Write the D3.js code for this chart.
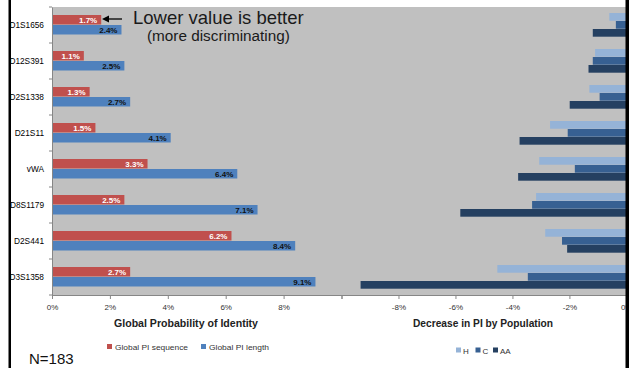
<!DOCTYPE html>
<html>
<head>
<meta charset="utf-8">
<script src="https://cdn.jsdelivr.net/npm/d3@7"></script>
<style>
  html, body { margin: 0; padding: 0; background: #fff; }
  svg { display: block; font-family: "Liberation Sans", Arial, sans-serif; }
</style>
</head>
<body>
<svg id="chart" width="629" height="368"></svg>
<script>
// STR loci, top to bottom
const loci = ["D1S1656", "D12S391", "D2S1338", "D21S11", "vWA", "D8S1179", "D2S441", "D3S1358"];

// Global probability of identity (%)
const piSequence = [1.7, 1.1, 1.3, 1.5, 3.3, 2.5, 6.2, 2.7];
const piLength   = [2.4, 2.5, 2.7, 4.1, 6.4, 7.1, 8.4, 9.1];

// Decrease in PI by population (%)
const decH  = [-0.60, -1.10, -1.30, -2.68, -3.06, -3.17, -2.85, -4.53];
const decC  = [-0.37, -1.18, -0.94, -2.06, -1.81, -3.31, -2.26, -3.46];
const decAA = [-1.18, -1.33, -1.99, -3.75, -3.80, -5.83, -2.08, -9.33];

const leftTicks  = [0, 2, 4, 6, 8, 10];
const rightTicks = [-10, -8, -6, -4, -2, 0];

const leftSeries = [
  { key: "Global PI sequence", values: piSequence, color: "#C0504D", labelColor: "#ffffff" },
  { key: "Global PI length",   values: piLength,   color: "#4F81BD", labelColor: "#111111" }
];
const rightSeries = [
  { key: "H",  values: decH,  color: "#95B3D7" },
  { key: "C",  values: decC,  color: "#376092" },
  { key: "AA", values: decAA, color: "#254061" }
];

const svg = d3.select("#chart");

const plotTop = 7, plotBottom = 295;
const xL = d3.scaleLinear().domain([0, 10]).range([52, 341.5]);
const xR = d3.scaleLinear().domain([-10, 0]).range([341.5, 626.4]);
const y = d3.scaleBand().domain(loci).range([plotTop, plotBottom]);

const yInL = d3.scaleBand().domain(leftSeries.map(s => s.key))
  .range([0, y.bandwidth()]).paddingInner(0).paddingOuter(0.8);
const yInR = d3.scaleBand().domain(rightSeries.map(s => s.key))
  .range([0, y.bandwidth()]).paddingInner(0).paddingOuter(0.75);

// plot background
svg.append("rect")
  .attr("x", xL(0)).attr("y", plotTop)
  .attr("width", xR(0) - xL(0)).attr("height", plotBottom - plotTop)
  .attr("fill", "#C0C0C0");

// left bars
leftSeries.forEach(s => {
  const g = svg.append("g");
  g.selectAll("rect").data(loci).join("rect")
    .attr("x", xL(0))
    .attr("y", (d) => y(d) + yInL(s.key))
    .attr("width", (d, i) => xL(s.values[i]) - xL(0))
    .attr("height", yInL.bandwidth() - 0.5)
    .attr("fill", s.color);
  g.selectAll("text").data(loci).join("text")
    .attr("x", (d, i) => xL(s.values[i]) - 4)
    .attr("y", (d) => y(d) + yInL(s.key) + yInL.bandwidth() / 2 + 3)
    .attr("text-anchor", "end")
    .attr("font-size", 8)
    .attr("font-weight", "bold")
    .attr("fill", s.labelColor)
    .text((d, i) => s.values[i].toFixed(1) + "%");
});

// right bars
rightSeries.forEach(s => {
  svg.append("g").selectAll("rect").data(loci).join("rect")
    .attr("x", (d, i) => xR(s.values[i]))
    .attr("y", (d) => y(d) + yInR(s.key))
    .attr("width", (d, i) => xR(0) - xR(s.values[i]))
    .attr("height", yInR.bandwidth() - 0.3)
    .attr("fill", s.color);
});

// axes
const axisColor = "#868686";
const fmt = d => d + "%";

const gxL = svg.append("g").attr("transform", `translate(0,${plotBottom})`)
  .call(d3.axisBottom(xL).tickValues(leftTicks).tickSize(4).tickSizeOuter(0)
    .tickFormat(d => d === 10 ? "" : fmt(d)));
const gxR = svg.append("g").attr("transform", `translate(0,${plotBottom})`)
  .call(d3.axisBottom(xR).tickValues(rightTicks).tickSize(4).tickSizeOuter(0)
    .tickFormat(d => d === -10 ? "" : fmt(d)));
[gxL, gxR].forEach(g => {
  g.select(".domain").attr("stroke", axisColor);
  g.selectAll(".tick line").attr("stroke", axisColor);
  g.selectAll(".tick text").attr("font-size", 8).attr("fill", "#333")
    .attr("font-family", "Liberation Sans, Arial, sans-serif").attr("dy", "1em");
});

const gy = svg.append("g").attr("transform", `translate(${xL(0)},0)`)
  .call(d3.axisLeft(y).tickSize(0).tickPadding(8));
gy.select(".domain").attr("stroke", axisColor);
gy.selectAll(".tick text").attr("font-size", 8.3).attr("fill", "#000")
  .attr("font-family", "Liberation Sans, Arial, sans-serif");
// band boundary ticks
gy.selectAll("line.bound").data(loci.concat(["end"])).join("line")
  .attr("class", "bound")
  .attr("x1", -3).attr("x2", 0)
  .attr("y1", d => d === "end" ? plotBottom : y(d))
  .attr("y2", d => d === "end" ? plotBottom : y(d))
  .attr("stroke", axisColor);

// axis titles
svg.append("text").attr("x", 186).attr("y", 327).attr("text-anchor", "middle")
  .attr("font-size", 10).attr("font-weight", "bold").attr("fill", "#222")
  .attr("textLength", 144).attr("lengthAdjust", "spacingAndGlyphs")
  .text("Global Probability of Identity");
svg.append("text").attr("x", 483).attr("y", 327).attr("text-anchor", "middle")
  .attr("font-size", 10).attr("font-weight", "bold").attr("fill", "#222")
  .attr("textLength", 140).attr("lengthAdjust", "spacingAndGlyphs")
  .text("Decrease in PI by Population");

// legends
const legL = svg.append("g");
const legLPos = [107, 201];
const legLWidth = [73, 60];
leftSeries.forEach((s, i) => {
  legL.append("rect").attr("x", legLPos[i]).attr("y", 344).attr("width", 5).attr("height", 5).attr("fill", s.color);
  legL.append("text").attr("x", legLPos[i] + 8).attr("y", 350).attr("font-size", 8).attr("fill", "#333")
    .attr("textLength", legLWidth[i]).attr("lengthAdjust", "spacingAndGlyphs")
    .text(s.key);
});
const legR = svg.append("g");
const legRPos = [456, 475.5, 493];
rightSeries.forEach((s, i) => {
  legR.append("rect").attr("x", legRPos[i]).attr("y", 347.5).attr("width", 5).attr("height", 5).attr("fill", s.color);
  legR.append("text").attr("x", legRPos[i] + 7).attr("y", 353.5).attr("font-size", 8).attr("fill", "#333")
    .text(s.key);
});

// sample size
svg.append("text").attr("x", 29).attr("y", 364).attr("font-size", 15).attr("fill", "#111")
  .text("N=183");

// annotation
svg.append("path")
  .attr("d", "M102,19 L109,15.5 L109,22.5 Z")
  .attr("fill", "#000");
svg.append("line").attr("x1", 106).attr("x2", 122).attr("y1", 19).attr("y2", 19)
  .attr("stroke", "#000").attr("stroke-width", 1.3);
svg.append("text").attr("x", 133).attr("y", 24).attr("font-size", 18.5).attr("fill", "#1a1a1a")
  .text("Lower value is better");
svg.append("text").attr("x", 147).attr("y", 41).attr("font-size", 15.3).attr("fill", "#1a1a1a")
  .text("(more discriminating)");

// frame edges
svg.append("rect").attr("x", 8.5).attr("y", 0).attr("width", 2.5).attr("height", 368).attr("fill", "#000");
svg.append("rect").attr("x", 625.5).attr("y", 0).attr("width", 3.5).attr("height", 368).attr("fill", "#000");
</script>
</body>
</html>
